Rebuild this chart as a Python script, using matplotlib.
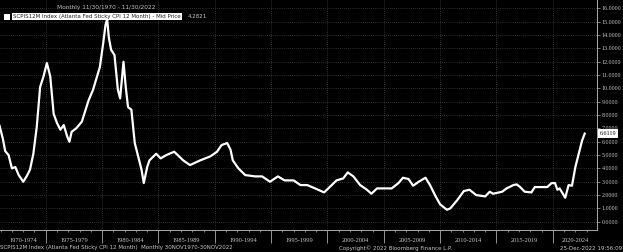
import numpy as np
import matplotlib
matplotlib.use('Agg')
from matplotlib import pyplot as plt
from matplotlib.patches import Rectangle

plt.rcParams['font.family'] = ['DejaVu Sans']
serif = ['Liberation Serif', 'DejaVu Serif']

# Atlanta Fed sticky CPI 12m
years = [1970.9, 1971.2, 1971.4, 1971.7, 1972.0, 1972.3, 1972.6, 1973.0, 1973.3, 1973.6,
         1973.9, 1974.2, 1974.5, 1974.8, 1975.1, 1975.4, 1975.7, 1976.0, 1976.3, 1976.6,
         1976.9, 1977.1, 1977.3, 1977.7, 1978.2, 1978.8, 1979.2, 1979.8, 1980.1, 1980.3,
         1980.45, 1980.6, 1980.8, 1981.1, 1981.4, 1981.6, 1981.9, 1982.1, 1982.3, 1982.6,
         1982.9, 1983.2, 1983.5, 1983.7, 1984.0, 1984.2, 1984.8, 1985.2, 1985.7, 1986.4,
         1987.2, 1987.8, 1988.7, 1989.6, 1990.2, 1990.6, 1991.1, 1991.4, 1991.6, 1992.1,
         1992.7, 1993.6, 1994.2, 1994.9, 1995.6, 1996.2, 1997.0, 1997.6, 1998.2, 1998.9,
         1999.7, 2000.2, 2000.8, 2001.4, 2001.8, 2002.3, 2002.9, 2003.5, 2003.9, 2004.4,
         2005.3, 2005.7, 2006.3, 2006.7, 2007.2, 2007.6, 2008.1, 2008.7, 2009.1, 2009.6,
         2010.0, 2010.6, 2010.9, 2011.5, 2012.1, 2012.6, 2013.2, 2014.0, 2014.4, 2014.7,
         2015.5, 2015.9, 2016.5, 2016.8, 2017.1, 2017.5, 2018.1, 2018.4, 2018.9, 2019.5,
         2019.9, 2020.2, 2020.4, 2020.6, 2021.1, 2021.4, 2021.7, 2022.0, 2022.3, 2022.6,
         2022.83]
values = [7.2, 6.2, 5.3, 5.0, 4.0, 4.1, 3.5, 3.0, 3.4, 3.9,
          5.1, 7.1, 10.1, 10.9, 11.9, 10.9, 8.1, 7.4, 6.9, 7.25,
          6.4, 6.0, 6.75, 7.0, 7.5, 9.1, 9.9, 11.6, 13.4, 14.75,
          15.2, 13.8, 12.9, 12.5, 9.9, 9.25, 12.0, 10.1, 8.6, 8.4,
          5.9, 4.9, 3.9, 2.9, 4.1, 4.6, 5.1, 4.75, 5.0, 5.25,
          4.6, 4.25, 4.6, 4.9, 5.25, 5.75, 5.9, 5.4, 4.6, 4.0,
          3.5, 3.4, 3.4, 3.0, 3.4, 3.1, 3.1, 2.75, 2.75, 2.5,
          2.2, 2.6, 3.1, 3.25, 3.7, 3.4, 2.75, 2.4, 2.1, 2.5,
          2.5, 2.5, 2.9, 3.3, 3.2, 2.7, 3.0, 3.3, 2.75, 1.9,
          1.3, 0.9, 1.0, 1.6, 2.3, 2.4, 2.0, 1.9, 2.25, 2.1,
          2.25, 2.5, 2.75, 2.8, 2.6, 2.25, 2.2, 2.6, 2.6, 2.6,
          2.9, 2.9, 2.4, 2.5, 1.8, 2.75, 2.7, 4.1, 5.1, 6.1,
          6.61]
last_value = '6.6119'
period_labels = ['1970-1974', '1975-1979', '1980-1984', '1985-1989', '1990-1994',
                 '1995-1999', '2000-2004', '2005-2009', '2010-2014', '2015-2019', '2020-2024']
period_starts = [1970, 1975, 1980, 1985, 1990, 1995, 2000, 2005, 2010, 2015, 2020]

W, H = 623, 252
grey = '#c8c8c8'
fs = 4.0

fig = plt.figure(figsize=(W / 100, H / 100), dpi=100, facecolor='black')
ax = fig.add_axes([0, 22 / H, 597 / W, 1 - 22 / H])
ax.set_facecolor('black')

xmin, xmax = 1970.94, 2023.92
ax.set_xlim(xmin, xmax)
ax.set_ylim(-0.62, 16.63)

ax.plot(years, values, color='white', linewidth=1.6, solid_joinstyle='round')

# axes / grid
for s in ['left', 'top']:
    ax.spines[s].set_visible(False)
for s in ['right', 'bottom']:
    ax.spines[s].set_color('#aaaaaa')
    ax.spines[s].set_linewidth(0.7)

ax.yaxis.tick_right()
ax.set_yticks(range(0, 17))
ax.set_yticklabels(['%.4f' % v for v in range(0, 17)], family=serif)
ax.tick_params(axis='y', colors='#aaaaaa', labelcolor=grey, labelsize=4.3,
               length=2, width=0.5, pad=1.5)

ax.set_xticks(period_starts[1:])
ax.set_xticks(np.arange(1971, 2024), minor=True)
ax.set_xticklabels([])
ax.tick_params(axis='x', which='major', colors='#aaaaaa', length=9, width=0.6)
ax.tick_params(axis='x', which='minor', colors='#aaaaaa', length=1.5, width=0.5)

ax.grid(True, which='major', color='#5a5a5a', linestyle=(0, (1, 2)), linewidth=0.5)
ax.set_axisbelow(True)

# period labels centred in each visible 5-year block
for lab, start in zip(period_labels, period_starts):
    lo = max(start, xmin)
    hi = min(start + 5, xmax)
    ax.text((lo + hi) / 2, -10 / 230, lab, transform=ax.get_xaxis_transform(),
            ha='center', va='center', fontsize=4.6, family=serif, color=grey,
            clip_on=False)

# last value tag on the right axis
ax.annotate(last_value, xy=(1, values[-1]), xycoords=('axes fraction', 'data'),
            xytext=(2, 0), textcoords='offset points', ha='left', va='center',
            fontsize=4.3, family=serif, color='black',
            bbox=dict(boxstyle='square,pad=0.3', facecolor='white', edgecolor='none'))

# header
fig.text(106 / W, 1 - 7 / H, 'Monthly 11/30/1970 - 11/30/2022', ha='center', va='center',
         fontsize=4.2, color='#bbbbbb')
fig.patches.append(Rectangle((4 / W, 1 - 20 / H), 6 / W, 6 / H, transform=fig.transFigure,
                             facecolor='white', edgecolor='none'))
fig.text(13 / W, 1 - 16.5 / H, 'SCPIS12M Index (Atlanta Fed Sticky CPI 12 Month) - Mid Price',
         ha='left', va='center', fontsize=fs, color='#202020',
         bbox=dict(boxstyle='square,pad=0.25', facecolor='white', edgecolor='none'))
fig.text(188 / W, 1 - 16.5 / H, '4.2821', ha='left', va='center', fontsize=fs, color=grey)

# footer
fig.text(0, 4 / H, 'SCPIS12M Index (Atlanta Fed Sticky CPI 12 Month)  Monthly 30NOV1970-30NOV2022',
         ha='left', va='center', fontsize=fs, color=grey)
fig.text(339 / W, 4 / H, 'Copyright\u00a9 2022 Bloomberg Finance L.P.',
         ha='left', va='center', fontsize=fs, color=grey)
fig.text(622 / W, 4 / H, '25-Dec-2022 19:56:09', ha='right', va='center', fontsize=fs, color=grey)

fig.savefig('out.png', dpi=100, facecolor='black')
